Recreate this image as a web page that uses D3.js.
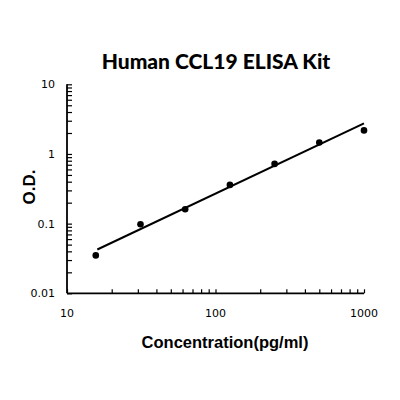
<!DOCTYPE html>
<html>
<head>
<meta charset="utf-8">
<script src="https://cdn.jsdelivr.net/npm/d3@7"></script>
<style>
  body { margin: 0; background: #fff; }
</style>
</head>
<body>
<div id="chart"></div>
<script>
// standard curve data
var concentration = [15.625, 31.25, 62.5, 125, 250, 500, 1000];
var od = [0.035, 0.098, 0.161, 0.36, 0.72, 1.46, 2.18];

// fitted line end points
var fitX = [16, 1000];
var fitY = [0.0425, 2.75];

var xTicks = [10, 100, 1000];
var yTicks = [0.01, 0.1, 1, 10];

var svg = d3.select("#chart").append("svg")
    .attr("width", 400).attr("height", 400);

// set the ranges
var x = d3.scaleLog().domain([10, 1000]).range([67, 364]);
var y = d3.scaleLog().domain([0.01, 10]).range([293.3, 84.3]);

// minor ticks 1..9 per decade
var xMinor = [], yMinor = [];
[10, 100].forEach(function (d) {
    for (var i = 1; i <= 9; i++) xMinor.push(d * i);
});
xMinor.push(1000);
[0.01, 0.1, 1].forEach(function (d) {
    for (var i = 1; i <= 9; i++) yMinor.push(d * i);
});
yMinor.push(10);

// X axis
var gx = svg.append("g").attr("transform", "translate(0," + y(0.01) + ")");
gx.call(d3.axisBottom(x).tickValues(xMinor).tickSize(-4).tickSizeOuter(0).tickFormat(""));
gx.select(".domain").attr("d", "M" + x(10) + ",0H" + x(1000)).attr("stroke-width", 1.8);
gx.selectAll(".tick line").attr("stroke-width", 1.2);

svg.append("g").selectAll("text").data(xTicks).enter().append("text")
    .attr("x", function (d) { return x(d); })
    .attr("y", 317)
    .attr("text-anchor", "middle")
    .style("font-family", "DejaVu Sans, Verdana, sans-serif")
    .style("font-size", "11px")
    .text(function (d) { return d; });

// Y axis
var gy = svg.append("g").attr("transform", "translate(" + x(10) + ",0)");
gy.call(d3.axisLeft(y).tickValues(yMinor).tickSize(-5).tickSizeOuter(0).tickFormat(""));
gy.select(".domain").attr("d", "M0," + y(10) + "V" + y(0.01)).attr("stroke-width", 1.8);
gy.selectAll(".tick line").attr("stroke-width", 1.2);

svg.append("g").selectAll("text").data(yTicks).enter().append("text")
    .attr("x", 55)
    .attr("y", function (d) { return y(d) + 4; })
    .attr("text-anchor", "end")
    .style("font-family", "DejaVu Sans, Verdana, sans-serif")
    .style("font-size", "11px")
    .text(function (d) { return d; });

// fit line
var line = d3.line()
    .x(function (d) { return x(d[0]); })
    .y(function (d) { return y(d[1]); });

svg.append("path")
    .datum(d3.zip(fitX, fitY))
    .attr("d", line)
    .attr("fill", "none")
    .attr("stroke", "#000")
    .attr("stroke-width", 2);

// points
svg.append("g").selectAll("circle").data(d3.zip(concentration, od)).enter().append("circle")
    .attr("cx", function (d) { return x(d[0]); })
    .attr("cy", function (d) { return y(d[1]); })
    .attr("r", 3.3)
    .attr("fill", "#000");

// titles
svg.append("text")
    .attr("x", 216).attr("y", 69)
    .attr("text-anchor", "middle")
    .style("font-family", "Lato, Open Sans, sans-serif")
    .style("font-weight", "900")
    .style("font-size", "21px")
    .text("Human CCL19 ELISA Kit");

svg.append("text")
    .attr("x", 225).attr("y", 348)
    .attr("text-anchor", "middle")
    .style("font-family", "Liberation Sans, Arial, sans-serif")
    .style("font-weight", "bold")
    .style("font-size", "16.5px")
    .text("Concentration(pg/ml)");

svg.append("text")
    .attr("transform", "translate(35,187) rotate(-90)")
    .attr("text-anchor", "middle")
    .style("font-family", "Liberation Sans, Arial, sans-serif")
    .style("font-weight", "bold")
    .style("font-size", "17px")
    .text("O.D.");
</script>
</body>
</html>
